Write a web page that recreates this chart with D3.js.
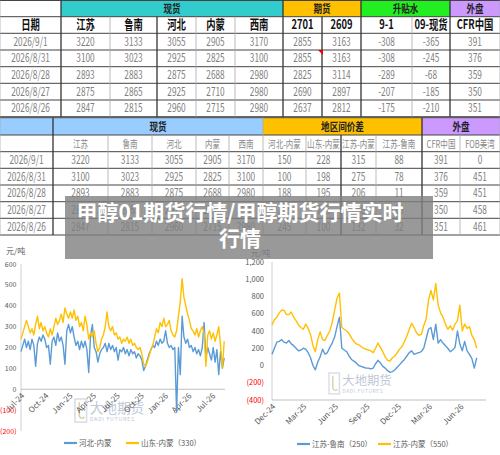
<!DOCTYPE html>
<html>
<head>
<meta charset="utf-8">
<script src="https://cdn.jsdelivr.net/npm/d3@7"></script>
<style>
body { margin: 0; background: #fff; }
svg { display: block; }
text { font-family: "Noto Sans CJK SC", "Noto Sans", sans-serif; }
</style>
</head>
<body>
<div id="chart"></div>
<script>
// ---- table data ----
var dates = ["2026/9/1", "2026/8/31", "2026/8/28", "2026/8/27", "2026/8/26"];
var spotCols = ["江苏", "鲁南", "河北", "内蒙", "西南"];
var spot = [
  [3220, 3133, 3055, 2905, 3170],
  [3100, 3023, 2925, 2825, 3100],
  [2893, 2883, 2875, 2688, 2980],
  [2875, 2865, 2925, 2710, 2980],
  [2847, 2815, 2960, 2715, 2980]
];
var futCols = ["2701", "2609"];
var fut = [[2855, 3163], [2855, 3163], [2825, 3114], [2690, 2897], [2637, 2812]];
var basisCols = ["9-1", "09-现货"];
var basis = [[-308, -365], [-308, -245], [-289, -68], [-207, -185], [-175, -210]];
var cfr = [391, 376, 359, 350, 351];
var spreadCols = ["河北-内蒙", "山东-内蒙", "江苏-内蒙", "江苏-鲁南"];
var spreads = [[150, 228, 315, 88], [100, 198, 275, 78], [188, 195, 206, 11], [215, 155, 165, 10], [245, 100, 132, 32]];
var fob = [0, 451, 451, 458, 461];

// ---- chart data (weekly readings) ----
var leftStart = "2024-07-01";
var hebeiNeimeng = [180,210,240,200,230,190,240,210,110,220,250,230,260,240,200,210,120,230,250,210,
  270,230,250,210,120,280,310,270,300,250,210,230,190,230,200,230,190,80,260,310,
  200,180,130,170,190,200,220,180,220,190,210,180,200,140,190,180,200,170,190,160,
  190,170,180,150,170,160,140,90,110,140,170,190,210,200,230,210,240,220,230,280,
  220,200,210,190,200,-110,200,70,350,250,220,240,200,210,180,200,170,190,160,200,
  320,150,200,170,140,200,130,190,70,180,100,150];
var shandongNeimeng = [240,270,300,330,300,270,290,260,310,350,290,320,280,300,270,250,290,260,300,340,
  310,330,360,320,390,360,340,370,340,380,330,350,300,320,280,350,310,240,270,250,
  280,220,180,200,240,260,300,370,300,280,300,260,270,240,250,220,240,230,250,220,
  240,210,220,200,190,200,170,120,110,130,160,190,210,250,290,270,320,300,340,300,
  310,330,280,260,250,280,350,420,530,440,400,360,330,290,280,260,290,250,280,300,
  270,110,260,280,240,270,230,260,300,210,100,230];
var rightStart = "2024-12-01";
var jiangsuLunan = [130,200,270,280,300,270,260,290,250,230,200,170,180,200,190,150,90,0,-50,40,
  100,190,130,150,210,260,330,450,560,200,180,160,110,70,50,30,0,-10,-20,-30,
  -30,-40,-30,20,60,30,-10,-30,-60,-80,-70,-50,-20,10,40,70,110,150,170,130,
  140,150,160,200,310,420,440,300,480,260,300,260,230,200,160,180,210,400,250,170,
  280,170,130,80,-30,90];
var jiangsuNeimeng = [470,530,560,610,640,640,590,590,620,560,520,470,440,420,480,430,360,230,160,300,
  390,300,290,350,400,500,640,780,840,440,420,400,370,320,280,250,240,220,200,190,
  180,170,150,200,260,210,160,100,60,50,90,110,150,190,220,280,340,420,490,440,
  380,350,360,460,540,760,870,760,950,700,610,560,480,420,460,410,480,520,700,400,
  480,430,450,350,300,200];

var leftLegend = ["河北-内蒙", "山东-内蒙（330）"];
var rightLegend = ["江苏-鲁南（250）", "江苏-内蒙（550）"];
var leftTicksY = [-200, -100, 0, 100, 200, 300, 400, 500, 600];
var rightTicksY = [-400, -200, 0, 200, 400, 600, 800, 1000, 1200];
var titleLines = ["甲醇01期货行情/甲醇期货行情实时", "行情"];

var blue = "#5b9bd5", gold = "#ffc000";

var svg = d3.select("#chart").append("svg")
  .attr("width", 500)
  .attr("height", 455);

// ---------- tables ----------
function drawTable(g, edges, rowsY, groups, head2, head2Bold, rows, heavy) {
  // group header fills
  groups.forEach(function (gr) {
    g.append("rect")
      .attr("x", edges[gr.from]).attr("y", rowsY[0])
      .attr("width", edges[gr.to] - edges[gr.from])
      .attr("height", rowsY[1] - rowsY[0])
      .attr("fill", gr.fill);
    if (gr.label) {
      g.append("text")
        .attr("transform", "translate(" + (edges[gr.from] + edges[gr.to]) / 2 + "," + (rowsY[1] - 4) + ") scale(0.78,1)")
        .attr("text-anchor", "middle")
        .attr("font-size", 11).attr("font-weight", "bold")
        .attr("fill", "#222")
        .text(gr.label);
    }
  });

  var centers = d3.range(edges.length - 1).map(function (i) { return (edges[i] + edges[i + 1]) / 2; });

  head2.forEach(function (t, i) {
    g.append("text")
      .attr("transform", "translate(" + centers[i] + "," + (rowsY[2] - 4) + ") scale(0.72,1)")
      .attr("text-anchor", "middle")
      .attr("font-size", head2Bold ? 13 : 10.5)
      .attr("font-weight", head2Bold ? "bold" : "normal")
      .attr("font-family", head2Bold ? "'Liberation Serif','Noto Sans CJK SC',serif" : "'Noto Sans CJK SC',sans-serif")
      .attr("fill", head2Bold ? "#111" : "#888")
      .text(t);
  });

  rows.forEach(function (r, ri) {
    r.forEach(function (v, ci) {
      g.append("text")
        .attr("transform", "translate(" + centers[ci] + "," + (rowsY[ri + 3] - 4.5) + ") scale(0.72,1)")
        .attr("text-anchor", "middle")
        .attr("font-size", 11.5)
        .attr("font-family", "'Liberation Serif',serif")
        .attr("fill", "#808080")
        .text(v);
    });
  });

  // grid
  rowsY.forEach(function (y) {
    g.append("line").attr("x1", 0).attr("x2", 500).attr("y1", y).attr("y2", y)
      .attr("stroke", "#444").attr("stroke-width", 1);
  });
  edges.forEach(function (x, i) {
    var hv = heavy.indexOf(i) >= 0;
    g.append("line").attr("x1", x).attr("x2", x)
      .attr("y1", i === 0 || i === edges.length - 1 || groups.some(function (gr) { return gr.from === i; }) ? rowsY[0] : rowsY[1])
      .attr("y2", rowsY[rowsY.length - 1])
      .attr("stroke", hv ? "#333" : "#aaa").attr("stroke-width", hv ? 1.3 : 0.8);
  });
}

var t1 = svg.append("g");
drawTable(t1,
  [0, 61, 110, 157, 196, 235, 283, 322, 361, 412, 450, 500],
  [0.5, 16.7, 33.3, 50, 66.7, 83.3, 100, 116.7],
  [{ label: "", from: 0, to: 1, fill: "#fff" },
   { label: "现货", from: 1, to: 6, fill: "#33cccc" },
   { label: "期货", from: 6, to: 8, fill: "#ffc000" },
   { label: "升贴水", from: 8, to: 10, fill: "#22ee22" },
   { label: "外盘", from: 10, to: 11, fill: "#cc99ff" }],
  ["日期"].concat(spotCols, futCols, basisCols, ["CFR中国"]), true,
  dates.map(function (d, i) { return [d].concat(spot[i], fut[i], basis[i], [cfr[i]]); }),
  [1, 3, 6, 7, 8, 10]);

// comment marker
t1.append("path").attr("d", "M318,50 L323,50 L323,55 Z").attr("fill", "#e00");

var t2 = svg.append("g");
drawTable(t2,
  [0, 53, 108, 152, 196, 229, 263, 306, 341, 376, 422, 460, 500],
  [117.7, 135, 151.7, 168.3, 185, 201.7, 218.3, 235],
  [{ label: "", from: 0, to: 1, fill: "#99ccff" },
   { label: "现货", from: 1, to: 6, fill: "#99ccff" },
   { label: "地区间价差", from: 6, to: 10, fill: "#ffc000" },
   { label: "外盘", from: 10, to: 12, fill: "#cc99ff" }],
  [""].concat(spotCols, spreadCols, ["CFR中国", "FOB美湾"]), false,
  dates.map(function (d, i) { return [d].concat(spot[i], spreads[i], [cfr[i], fob[i]]); }),
  [1, 8, 10]);

// ---------- line charts ----------
var parse = d3.timeParse("%Y-%m-%d");
var fmtMonth = d3.timeFormat("%b-%y");

function yLabel(v) {
  var s = d3.format(",")(Math.abs(v));
  return v < 0 ? "(" + s + ")" : s;
}

function watermark(g, x, y, s) {
  var w = g.append("g").attr("transform", "translate(" + x + "," + y + ") scale(" + s + ")").attr("opacity", 0.55);
  w.append("rect").attr("x", 0).attr("y", 0).attr("width", 11).attr("height", 22)
    .attr("fill", "none").attr("stroke", "#b9c3d6").attr("stroke-width", 1.5);
  w.append("path").attr("d", "M4,3 L4,16 Q6,20 9,17").attr("fill", "none").attr("stroke", "#c9a96a").attr("stroke-width", 1.5);
  w.append("text").attr("x", 14).attr("y", 13).attr("font-size", 13).attr("fill", "#8d9bb5").text("大地期货");
  w.append("text").attr("x", 14).attr("y", 21).attr("font-size", 5.2).attr("fill", "#8d9bb5")
    .attr("letter-spacing", 0.6).text("DADI FUTURES");
}

function drawChart(cfg) {
  var g = svg.append("g");
  var start = parse(cfg.start);
  var x = d3.scaleTime().domain(cfg.xDomain).range(cfg.xRange);
  var y = d3.scaleLinear().domain(cfg.yDomain).range(cfg.yRange);

  watermark(g, cfg.wm[0], cfg.wm[1], cfg.wm[2]);

  // unit label
  g.append("text").attr("x", cfg.unitPos[0]).attr("y", cfg.unitPos[1])
    .attr("font-size", 8).attr("fill", "#595959").text("元/吨");

  // y axis line
  g.append("line").attr("x1", cfg.xRange[0]).attr("x2", cfg.xRange[0])
    .attr("y1", cfg.yRange[1]).attr("y2", cfg.yRange[0])
    .attr("stroke", "#d0d0d0");

  // y tick labels
  g.selectAll(".yl").data(cfg.ticksY).enter().append("text")
    .attr("x", cfg.xRange[0] - cfg.labelGap)
    .attr("y", function (d) { return y(d) + 2.6; })
    .attr("text-anchor", "end")
    .attr("font-size", cfg.yFont)
    .attr("font-family", "'Liberation Sans',sans-serif")
    .attr("fill", function (d) { return d < 0 ? "#ff0000" : "#595959"; })
    .text(yLabel);

  // category axis line
  var axisY = y(cfg.axisAt);
  g.append("line").attr("x1", cfg.xRange[0]).attr("x2", cfg.xRange[1])
    .attr("y1", axisY).attr("y2", axisY).attr("stroke", "#bfbfbf");

  // month labels
  var ticks = d3.timeMonth.range(cfg.xDomain[0], cfg.xDomain[1], 3);
  g.selectAll(".xl").data(ticks).enter().append("text")
    .attr("transform", function (d) { return "translate(" + (x(d) + 2) + "," + (axisY + 5) + ") rotate(-45)"; })
    .attr("text-anchor", "end")
    .attr("dy", "0.35em")
    .attr("font-size", 8)
    .attr("font-family", "'Liberation Sans',sans-serif")
    .attr("fill", "#595959")
    .text(fmtMonth);

  var line = d3.line()
    .x(function (d, i) { return x(d3.timeDay.offset(start, 7 * i)); })
    .y(function (d) { return y(d); });

  cfg.series.forEach(function (s) {
    g.append("path").datum(s.values)
      .attr("d", line)
      .attr("fill", "none")
      .attr("stroke", s.color)
      .attr("stroke-width", 1.4)
      .attr("stroke-linejoin", "round");
  });

  // legend
  cfg.series.forEach(function (s, i) {
    var lx = cfg.legendX[i], ly = cfg.legendY;
    g.append("line").attr("x1", lx).attr("x2", lx + 13).attr("y1", ly).attr("y2", ly)
      .attr("stroke", s.color).attr("stroke-width", 2.2);
    g.append("text").attr("x", lx + 15).attr("y", ly + 2.8)
      .attr("font-size", 7.5).attr("fill", "#595959").text(s.name);
  });
}

drawChart({
  start: leftStart,
  xDomain: [new Date(2024, 6, 1), new Date(2026, 7, 20)],
  xRange: [21, 225],
  yDomain: [-200, 600],
  yRange: [431, 264],
  ticksY: leftTicksY,
  labelGap: 4.5,
  yFont: 7,
  axisAt: 0,
  unitPos: [6, 254],
  wm: [75, 399, 1.05],
  legendX: [64, 126],
  legendY: 443,
  series: [
    { name: leftLegend[0], values: hebeiNeimeng, color: blue },
    { name: leftLegend[1], values: shandongNeimeng, color: gold }
  ]
});

drawChart({
  start: rightStart,
  xDomain: [new Date(2024, 11, 1), new Date(2026, 7, 15)],
  xRange: [272, 486],
  yDomain: [-400, 1200],
  yRange: [400, 262],
  ticksY: rightTicksY,
  labelGap: 8,
  yFont: 7.5,
  axisAt: -400,
  unitPos: [251, 256],
  wm: [329, 373, 0.95],
  legendX: [297, 378],
  legendY: 444,
  series: [
    { name: rightLegend[0], values: jiangsuLunan, color: blue },
    { name: rightLegend[1], values: jiangsuNeimeng, color: gold }
  ]
});

// ---------- title overlay ----------
svg.append("rect")
  .attr("x", 65).attr("y", 196).attr("width", 368).attr("height", 63)
  .attr("fill", "rgba(128,128,128,0.8)");

svg.selectAll(".title").data(titleLines).enter().append("text")
  .attr("x", 240)
  .attr("y", function (d, i) { return 220 + i * 26; })
  .attr("text-anchor", "middle")
  .attr("font-size", 21)
  .attr("font-weight", "bold")
  .attr("fill", "#fff")
  .text(function (d) { return d; });
</script>
</body>
</html>
